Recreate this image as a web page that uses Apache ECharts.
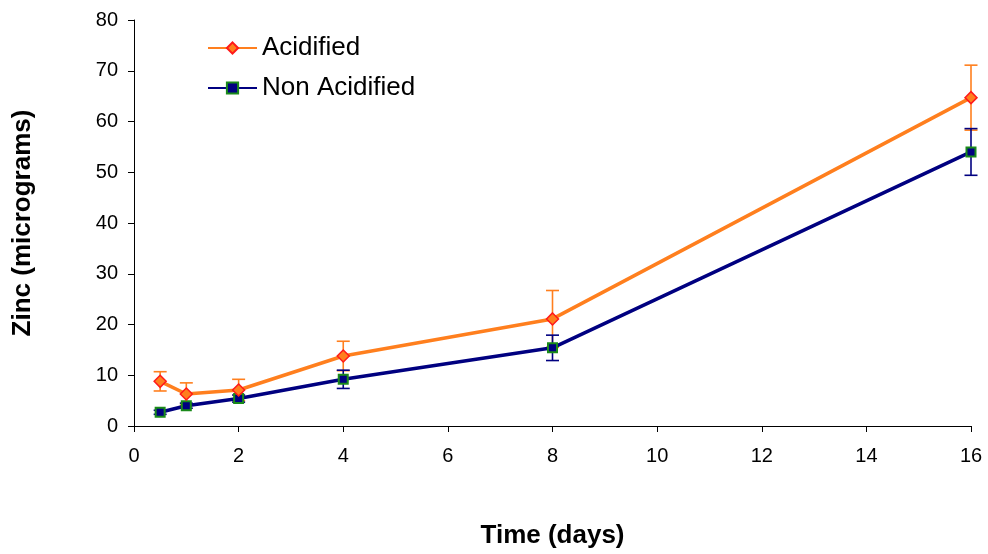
<!DOCTYPE html>
<html><head><meta charset="utf-8">
<script src="https://cdn.jsdelivr.net/npm/echarts@6/dist/echarts.min.js"></script>
<style>html,body{margin:0;padding:0;background:#fff}#c{width:988px;height:554px}</style>
</head><body><div id="c"></div>
<script>
var days = [0.5, 1, 2, 4, 8, 16];
var acidified = [8.8, 6.3, 7.1, 13.8, 21.1, 64.7];
var acidifiedErr = [1.9, 2.2, 2.1, 2.9, 5.6, 6.4];
var nonAcidified = [2.7, 4.0, 5.4, 9.2, 15.4, 54.0];
var nonAcidifiedErr = [0.4, 0.5, 0.7, 1.8, 2.5, 4.6];
var xTicks = [0, 2, 4, 6, 8, 10, 12, 14, 16];
var yTicks = [0, 10, 20, 30, 40, 50, 60, 70, 80];

function pairs(xs, ys){ return xs.map(function(x,i){return [x, ys[i]];}); }
function errData(xs, ys, es){ return xs.map(function(x,i){return [x, ys[i]-es[i], ys[i]+es[i]];}); }
function errRender(color){
  return function(params, api){
    var x = api.value(0);
    var lo = api.coord([x, api.value(1)]);
    var hi = api.coord([x, api.value(2)]);
    var w = 6.5;
    var st = {stroke: color, lineWidth: 1.6};
    return {type:'group', children:[
      {type:'line', shape:{x1:lo[0],y1:lo[1],x2:hi[0],y2:hi[1]}, style:st},
      {type:'line', shape:{x1:hi[0]-w,y1:hi[1],x2:hi[0]+w,y2:hi[1]}, style:st},
      {type:'line', shape:{x1:lo[0]-w,y1:lo[1],x2:lo[0]+w,y2:lo[1]}, style:st}
    ]};
  };
}
var chart = echarts.init(document.getElementById('c'));
var FF = 'Liberation Sans, Arial, sans-serif';
chart.setOption({
  animation:false,
  backgroundColor:'#fff',
  grid:{left:134, right:17, top:20, bottom:117},
  legend:{
    orient:'vertical', left:202, top:30, itemWidth:49, itemHeight:14, itemGap:14,
    textStyle:{fontFamily:FF, fontSize:26, color:'#000'},
    data:['Acidified','Non Acidified']
  },
  xAxis:{
    type:'value', min:xTicks[0], max:xTicks[xTicks.length-1], interval:2,
    name:'Time (days)', nameLocation:'middle', nameGap:97,
    nameTextStyle:{fontFamily:FF, fontSize:26, fontWeight:'bold', color:'#000'},
    axisLine:{lineStyle:{color:'#000', width:1}},
    axisTick:{show:true, length:6, lineStyle:{color:'#000'}},
    axisLabel:{margin:20, fontFamily:FF, fontSize:20, color:'#000'},
    splitLine:{show:false}
  },
  yAxis:{
    type:'value', min:yTicks[0], max:yTicks[yTicks.length-1], interval:10,
    name:'Zinc (micrograms)', nameLocation:'middle', nameGap:98, nameRotate:90,
    nameTextStyle:{fontFamily:FF, fontSize:26, fontWeight:'bold', color:'#000'},
    axisLine:{show:true, lineStyle:{color:'#000', width:1}},
    axisTick:{show:true, length:6, lineStyle:{color:'#000'}},
    axisLabel:{margin:16, fontFamily:FF, fontSize:20, color:'#000'},
    splitLine:{show:false}
  },
  series:[
    {type:'custom', name:'errA', renderItem:errRender('#ff7f1e'), data:errData(days, acidified, acidifiedErr), z:1, silent:true},
    {type:'custom', name:'errN', renderItem:errRender('#000080'), data:errData(days, nonAcidified, nonAcidifiedErr), z:1, silent:true},
    {type:'line', name:'Acidified', data:pairs(days, acidified), z:3,
     lineStyle:{color:'#ff7f1e', width:3.5}, itemStyle:{color:'#ff7f1e', borderColor:'#ff1a1a', borderWidth:1.5},
     symbol:'diamond', symbolSize:12, showAllSymbol:true},
    {type:'line', name:'Non Acidified', data:pairs(days, nonAcidified), z:2,
     lineStyle:{color:'#000080', width:3.5}, itemStyle:{color:'#000080', borderColor:'#1a8a1a', borderWidth:2},
     symbol:'rect', symbolSize:9, showAllSymbol:true}
  ]
});
</script></body></html>
